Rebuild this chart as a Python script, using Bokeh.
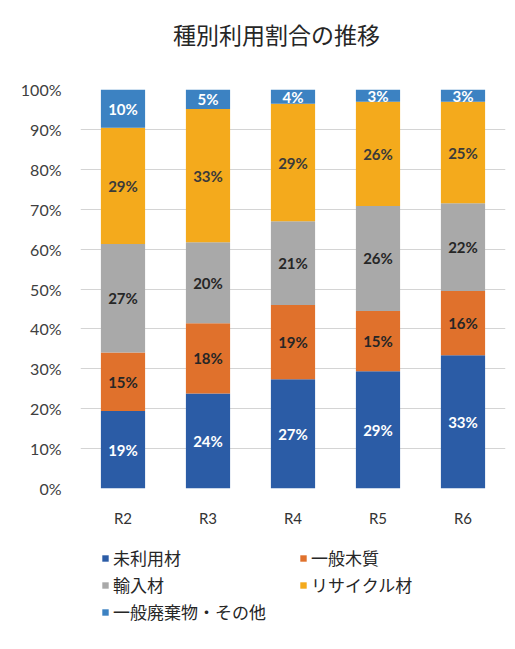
from bokeh.plotting import figure
from bokeh.layouts import column
from bokeh.models import (FactorRange, Range1d, FixedTicker, PrintfTickFormatter,
                          Legend, LegendItem, ColumnDataSource, Label)
from bokeh.core.properties import value
from bokeh.embed import file_html
from bokeh.resources import INLINE
import numpy as np

# ---- data ----
years = ["R2", "R3", "R4", "R5", "R6"]
series_names = ["未利用材", "一般木質", "輸入材", "リサイクル材", "一般廃棄物・その他"]
miriyo = [19.4, 23.8, 27.4, 29.4, 33.4]
ippan_mokushitsu = [14.7, 17.6, 18.6, 15.1, 16.1]
yunyu = [27.2, 20.3, 21.0, 26.3, 22.0]
recycle = [29.1, 33.4, 29.4, 26.1, 25.4]
haikibutsu = [9.6, 4.9, 3.6, 3.1, 3.1]
y_ticks = [0, 10, 20, 30, 40, 50, 60, 70, 80, 90, 100]
title_text = "種別利用割合の推移"

colors = ["#2B5CA6", "#E0712C", "#A9A9A9", "#F4AA1C", "#3C82C2"]
label_colors = ["#FFFFFF", "#262626", "#262626", "#3A3A3A", "#FFFFFF"]
series = [miriyo, ippan_mokushitsu, yunyu, recycle, haikibutsu]
keys = ["s0", "s1", "s2", "s3", "s4"]

data = {"year": years}
for k, s in zip(keys, series):
    data[k] = s
src = ColumnDataSource(data)

JP = "Noto Sans CJK JP"
NUM = "Lato"

W = 515
TITLE_H = 60
LEGEND_H = 120
FRAME_L = 80
FRAME_R = 505

# ---- title strip (frame is aligned with the chart frame by the column layout) ----
tt = figure(width=W, height=TITLE_H, x_range=Range1d(FRAME_L, FRAME_R),
            y_range=Range1d(TITLE_H, 0),
            output_backend="svg", toolbar_location=None, min_border=0,
            min_border_left=0, min_border_right=0, min_border_top=0, min_border_bottom=0,
            x_axis_location=None, y_axis_location=None)
tt.grid.grid_line_color = None
tt.outline_line_color = None
tt.add_layout(Label(x=276, y=33, text=title_text, text_align="center",
                    text_baseline="middle", text_font=JP, text_font_size="23px",
                    text_color="#262626"))

# ---- main chart ----
p = figure(width=W, height=529 - TITLE_H, x_range=FactorRange(*years, range_padding=0.0),
           y_range=Range1d(0, 100), output_backend="svg", toolbar_location=None,
           min_border_left=FRAME_L, min_border_right=W - FRAME_R,
           min_border_top=89 - TITLE_H, min_border_bottom=38)
p.outline_line_color = None
p.background_fill_color = "white"
p.border_fill_color = "white"

p.vbar_stack(keys, x="year", width=0.52, color=colors, source=src, line_color=None)

# segment labels
cum = np.zeros(len(years))
for i, s in enumerate(series):
    s = np.array(s)
    mids = cum + s / 2
    cum = cum + s
    lsrc = ColumnDataSource(dict(x=years, y=list(mids),
                                 t=[f"{int(round(v))}%" for v in s]))
    p.text(x="x", y="y", text="t", source=lsrc, text_align="center",
           text_baseline="middle", text_font=value(NUM), text_font_style="bold",
           text_font_size="15px", text_color=label_colors[i])

# axes
p.yaxis.ticker = FixedTicker(ticks=y_ticks)
p.yaxis.formatter = PrintfTickFormatter(format="%d%%")
p.yaxis.axis_line_color = None
p.yaxis.major_tick_line_color = None
p.yaxis.minor_tick_line_color = None
p.yaxis.major_label_text_font = NUM
p.yaxis.major_label_text_font_size = "16px"
p.yaxis.major_label_text_color = "#404040"
p.yaxis.major_label_standoff = 13

p.xaxis.axis_line_color = None
p.xaxis.major_tick_line_color = None
p.xaxis.minor_tick_line_color = None
p.xaxis.major_label_text_font = NUM
p.xaxis.major_label_text_font_size = "15px"
p.xaxis.major_label_text_color = "#333333"
p.xaxis.major_label_standoff = 14

p.xgrid.grid_line_color = None
p.ygrid.grid_line_color = "#D4D4D4"
p.ygrid.ticker = FixedTicker(ticks=y_ticks)

# ---- legend strip ----
lg = figure(width=W, height=LEGEND_H, x_range=FactorRange(*years),
            y_range=Range1d(0, 100),
            output_backend="svg", toolbar_location=None, min_border=0,
            min_border_left=0, min_border_right=0, min_border_top=0, min_border_bottom=0,
            x_axis_location=None, y_axis_location=None)
lg.grid.grid_line_color = None
lg.outline_line_color = None
lg_renderers = lg.vbar_stack(keys, x="year", width=0.5, color=colors, source=src,
                             line_color=None)
for r in lg_renderers:
    r.visible = False
items = [LegendItem(label=n, renderers=[r]) for n, r in zip(series_names, lg_renderers)]
legend = Legend(items=items, orientation="horizontal", ncols=2,
                location=(101 - FRAME_L, 25), border_line_color=None,
                background_fill_alpha=0, glyph_width=8, glyph_height=8,
                label_standoff=4, label_width=184, label_height=20,
                spacing=2, padding=0, margin=0,
                inactive_fill_alpha=0,
                label_text_font=JP, label_text_font_size="17px",
                label_text_color="#262626")
lg.add_layout(legend, "center")

layout = column(tt, p, lg, spacing=0)
open("out.html", "w").write(file_html(layout, INLINE))
